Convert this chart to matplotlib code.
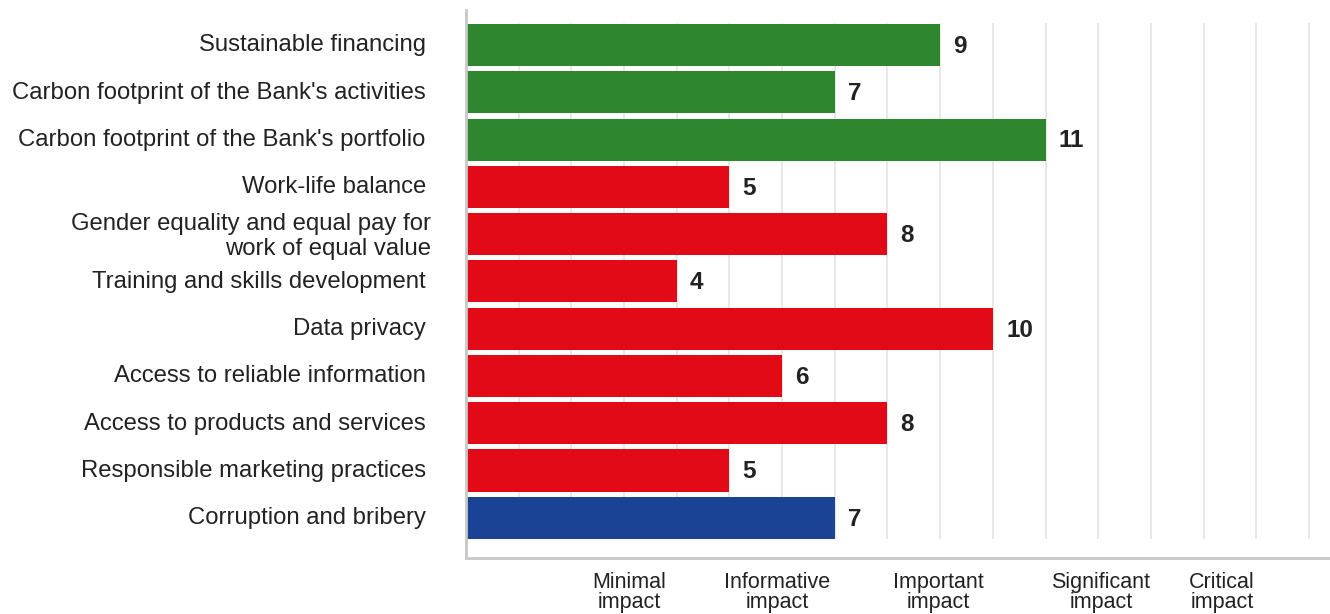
import matplotlib.pyplot as plt
from matplotlib.transforms import ScaledTranslation

# Material topics and their impact scores
topics = [
    "Sustainable financing",
    "Carbon footprint of the Bank's activities",
    "Carbon footprint of the Bank's portfolio",
    "Work-life balance",
    "Gender equality and equal pay for\nwork of equal value",
    "Training and skills development",
    "Data privacy",
    "Access to reliable information",
    "Access to products and services",
    "Responsible marketing practices",
    "Corruption and bribery",
]
scores = [9, 7, 11, 5, 8, 4, 10, 6, 8, 5, 7]
pillars = ["E", "E", "E", "S", "S", "S", "S", "S", "S", "S", "G"]

scale_labels = ["Minimal\nimpact", "Informative\nimpact", "Important\nimpact",
                "Significant\nimpact", "Critical\nimpact"]
scale_pos = [3.1, 5.9, 8.97, 12.05, 14.35]

pillar_colors = {"E": "#2e862e", "S": "#e20a17", "G": "#1a4396"}

plt.rcParams['font.family'] = ['Liberation Sans', 'DejaVu Sans']

fig = plt.figure(figsize=(13.3, 6.14), dpi=100)
ax = fig.add_axes([0.3504, 0.0912, 0.6496, 0.8925])

y = list(range(len(topics)))

# light vertical grid, only across the bar area
ax.vlines(range(1, 17), -0.47, len(topics) - 1 + 0.45, color='#e8e8e8', lw=1.4, zorder=0)

ax.barh(y, scores, height=0.89, color=[pillar_colors[p] for p in pillars], zorder=2)

for yi, s in zip(y, scores):
    ax.text(s + 0.25, yi + 0.03, str(s), va='center', ha='left', fontsize=17.5,
            fontweight='bold', color='#222222')

ax.set_xlim(0, 16.4)
ax.set_ylim(len(topics) - 1 + 0.85, -0.74)

ax.set_yticks(y)
ax.set_yticklabels(topics, fontsize=17.2, color='#222222', linespacing=1.2)
ax.tick_params(axis='y', length=0, pad=29)
# nudge the labels up a touch; the two-line one sits a bit further right
for lbl in ax.get_yticklabels():
    dx = 4 / 72 if '\n' in lbl.get_text() else 0
    lbl.set_transform(lbl.get_transform() + ScaledTranslation(dx, 1.5 / 72, fig.dpi_scale_trans))

ax.set_xticks(scale_pos)
ax.set_xticklabels(scale_labels, fontsize=15.5, color='#222222', linespacing=0.92)
ax.tick_params(axis='x', length=0, pad=10)

for side in ['top', 'right']:
    ax.spines[side].set_visible(False)
for side in ['left', 'bottom']:
    ax.spines[side].set_color('#c8c8c8')
    ax.spines[side].set_linewidth(2)

fig.savefig('out.png', dpi=100)
